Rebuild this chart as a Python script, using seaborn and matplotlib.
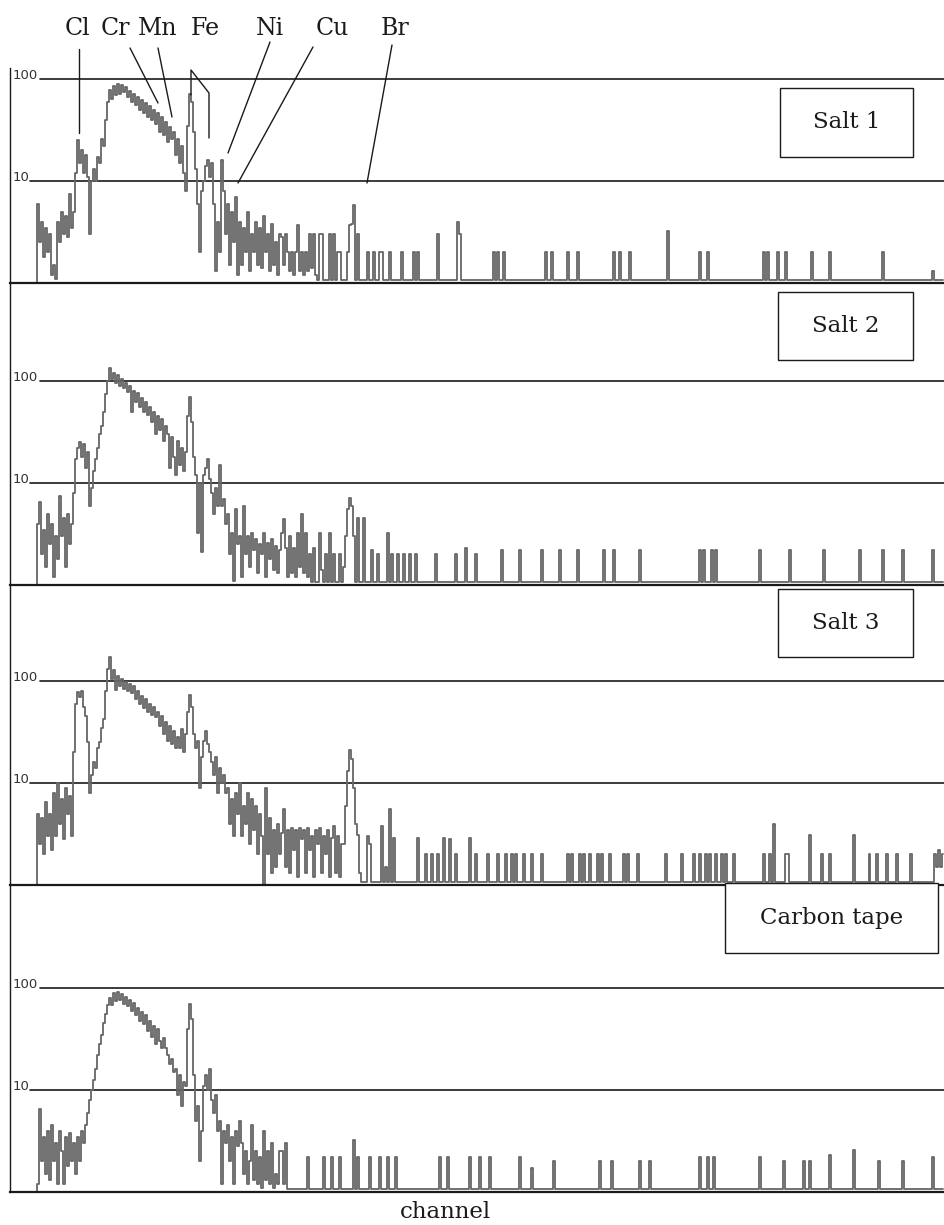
import numpy as np
import pandas as pd
import matplotlib
matplotlib.use("Agg")
import matplotlib.pyplot as plt
from matplotlib.lines import Line2D
from matplotlib.patches import Rectangle
import seaborn as sns

# ---------------------------------------------------------------------------
# Spectra (counts per channel, log scale). Each panel: a dense low-energy
# region listed channel by channel, then isolated counts in the high channels.
# ---------------------------------------------------------------------------
N_CHANNELS = 468
HEAD_START = 13
FLOOR = 1.06

salt1_head = [
    1.0,
    6, 2.5, 4, 1.8, 3.5, 2,
    3, 1.2, 1.5, 1.1,
    4, 2.5, 5, 3, 4.5, 2.8, 7.5, 3.5,
    5, 12,
    25, 15, 20, 12, 18, 11,
    3, 10,
    13, 10, 17, 15, 26, 22,
    40, 60,
    78, 64, 85, 70, 90, 72, 88, 74, 84, 66,
    76, 60, 72, 56, 66, 50, 62, 46, 58, 42, 54, 40, 50,
    36, 46, 30, 42, 28, 38, 24, 34, 26,
    30, 18, 26, 15, 22, 12, 8,
    35, 72, 60, 30,
    13, 6, 2, 8, 10,
    14, 16, 11, 15,
    6, 1.3, 4, 2,
    16,
    8, 3, 6, 1.5, 5, 2.5, 7, 1.2,
    4, 1.5, 3.5, 2, 5, 1.3, 3, 2, 4, 1.5, 3.5, 1.4, 4.5, 2, 3, 1.3, 3.8,
    1.5, 2.5, 1.2, 3,
]
salt1_tail = {
    136: 2.8, 137: 1.5, 138: 3, 139: 2, 140: 1.3, 141: 2, 142: 1.2, 143: 2,
    144: 3.7, 145: 1.3, 146: 2, 147: 1.2, 148: 2, 149: 1.3, 150: 3, 151: 1.4,
    152: 3, 153: 1.2, 155: 3, 156: 3, 160: 3, 162: 3, 164: 2, 165: 2,
    169: 2, 170: 3.7, 171: 3.8, 172: 5.8, 174: 3, 179: 2, 182: 2, 185: 2,
    186: 2, 190: 2, 196: 2, 202: 2, 204: 2, 214: 3, 224: 4, 225: 3,
    242: 2, 244: 2, 247: 2, 268: 2, 271: 2, 279: 2, 284: 2, 302: 2, 305: 2,
    310: 2, 329: 3.2, 345: 2, 349: 2, 377: 2, 379: 2, 384: 2, 388: 2,
    401: 2, 410: 2, 437: 2, 462: 1.3,
}

salt2_head = [
    1.0,
    4, 6.5, 2, 3.5, 1.5, 5,
    2.5, 4, 1.2, 3, 1.8, 7.5,
    3, 4.5, 1.5, 5, 2.5, 4,
    8, 17,
    22, 25, 18, 24, 14, 20,
    6, 9,
    13, 17, 22, 30, 36, 50,
    75, 100,
    135, 105, 120, 95, 115, 90, 105, 85, 96,
    78, 90, 50, 80, 62, 76, 56, 68, 50, 62,
    46, 55, 40, 50, 30, 45, 33, 42, 26, 36,
    30, 14, 28, 18, 12, 26, 15, 22, 13, 20,
    45, 70, 40, 18,
    12, 3.2, 10, 2.1, 12, 14, 17, 11,
    8, 5, 9, 6, 15,
    6, 7, 4, 5,
    2, 3.2, 1.1, 5.5, 2.5, 3, 1.2, 6, 2, 3, 1.5, 3.2, 2.2, 2.8, 1.3, 2.5,
    2, 3.2, 1.2, 2.6, 1.8, 2.8, 1.4, 2.4, 1.3, 2.2,
]
salt2_tail = {
    136: 3.2, 137: 4.4, 138: 2.3, 139: 1.2, 140: 3, 141: 1.3, 142: 2.3,
    143: 1.2, 144: 3.2, 145: 1.5, 146: 5, 147: 1.3, 148: 3.2, 149: 1.2,
    150: 2, 152: 2.3, 155: 3.2, 156: 1.4, 158: 2, 160: 3.2, 162: 2,
    165: 2, 167: 1.5, 168: 3, 169: 5.5, 170: 7.2, 171: 6, 172: 3, 174: 4.5,
    177: 4.5, 181: 2.2, 184: 2, 189: 3.2, 191: 2, 194: 2, 197: 2, 200: 2,
    203: 2, 213: 2, 223: 2, 228: 2.3, 233: 2, 246: 2.2, 255: 2.2,
    266: 2.2, 275: 2.2, 284: 2.2, 297: 2.2, 302: 2.2, 315: 2.2, 345: 2.2,
    347: 2.2, 351: 2.2, 353: 2.2, 375: 2.2, 390: 2.2, 407: 2.2, 425: 2.2,
    437: 2.2, 447: 2.2, 462: 2.2,
}

salt3_head = [
    1.0,
    5, 2.5, 4.5, 2, 6.5, 3, 5, 2.2,
    8, 3, 10, 4, 7, 2.8, 9, 5, 7.5, 3,
    20, 60,
    78, 70, 80, 55, 45, 25,
    8, 12,
    16, 14, 22, 25, 35, 42,
    80, 130, 170,
    105, 128, 82, 112, 90,
    104, 84, 98, 80, 94,
    76, 90, 66, 80, 60, 72, 54, 66, 50, 60, 46, 56, 44,
    50, 36, 45, 30, 40, 26, 36, 24, 32, 22,
    28, 22, 34, 20, 30,
    50, 73, 55, 30,
    22, 26, 9,
    18, 26, 32, 24, 20,
    16, 12, 18, 8, 14, 10, 12, 8,
    9, 4, 7, 3, 8, 5, 10, 3, 6, 4, 8, 2.5, 7, 3.5, 6, 2, 5, 3,
    1, 9, 2, 4.5, 1.3, 3.5, 1.5, 4, 2,
]
salt3_tail = {
    136: 3.2, 137: 5.5, 138: 1.5, 139: 3.5, 140: 1.3, 141: 3.6, 142: 2.2,
    143: 3.5, 144: 1.2, 145: 3.6, 146: 2.8, 147: 3.5, 148: 1.3, 149: 3.6,
    150: 2.2, 151: 3, 152: 1.2, 153: 3.5, 154: 2.5, 155: 3.6, 156: 1.3,
    157: 3, 158: 2, 159: 3.5, 160: 1.2, 161: 2.9, 162: 3.8, 163: 1.3,
    164: 3, 165: 1.2, 166: 2.5,
    167: 2.5, 168: 6, 169: 13, 170: 21, 171: 17, 172: 9, 173: 4, 174: 3.1,
    175: 1.3,
    179: 3, 180: 2.5, 186: 3.8, 188: 1.5, 190: 5.5, 192: 2.9, 204: 2.9,
    208: 2, 211: 2, 214: 2, 217: 2.9, 220: 2.8, 223: 2, 230: 2.9, 233: 2,
    239: 2, 244: 2, 248: 2, 251: 2, 253: 2, 257: 2, 261: 2, 266: 2, 279: 2,
    281: 2, 285: 2, 287: 2, 290: 2, 294: 2, 296: 2, 300: 2, 307: 2, 309: 2,
    314: 2, 328: 2, 336: 2, 342: 2, 345: 2, 348: 2, 350: 2, 353: 2, 356: 2,
    358: 2, 362: 2, 377: 2, 380: 2, 382: 4, 388: 2, 389: 2, 400: 3.1,
    406: 2, 410: 2, 422: 3.1, 430: 2, 434: 2, 439: 2, 444: 2, 451: 2,
    463: 2, 464: 1.5, 465: 2.2, 466: 1.5, 467: 2,
}

tape_head = [
    1.0,
    1.2, 6.5, 2, 3.5, 1.5, 4,
    1.3, 4.5, 2, 3, 1.2, 4,
    2.5, 1.2, 3.5, 1.8, 3.8, 2, 3, 1.5,
    3.5, 2, 4, 3,
    4.5, 6, 8, 10, 12.5, 16,
    22, 28, 35, 45, 55, 68,
    80, 68, 90, 74, 92, 76, 88, 70, 82, 66,
    76, 60, 72, 54, 64, 48, 58, 44, 54,
    38, 48, 33, 42, 28, 40, 30, 26, 32,
    26, 22, 18, 20, 15, 16, 9, 14, 7, 12, 11,
    40, 69, 50, 14,
    5, 7, 2, 4,
    11, 14, 10, 16,
    8, 6, 9, 4, 5,
    1.2, 4, 3, 4.5, 2, 3.5, 1.2, 4, 2.8, 5, 3,
    1.5, 2.5, 1.2, 2, 4.5, 1.3, 2.5, 1.2, 2.2, 1.1, 4, 1.3, 2.5, 1.2, 3,
    1.1, 1.5, 1.2, 2.5,
]
tape_tail = {
    136: 2.5, 137: 1.2, 138: 3, 149: 2.2, 157: 2.2, 161: 2.2, 165: 2.2,
    172: 3.2, 174: 2.2, 180: 2.2, 185: 2.2, 189: 2.2, 193: 2.2, 215: 2.2,
    219: 2.2, 230: 2.2, 235: 2.2, 240: 2.2, 255: 2.2, 261: 1.7, 272: 2,
    295: 2, 301: 2, 315: 2, 320: 2, 345: 2.2, 349: 2.2, 352: 2.2, 375: 2.2,
    387: 2, 397: 2, 400: 2, 410: 2.3, 422: 2.6, 435: 2, 447: 2, 462: 2.2,
}

panel_names = ["Salt 1", "Salt 2", "Salt 3", "Carbon tape"]
heads = [salt1_head, salt2_head, salt3_head, tape_head]
tails = [salt1_tail, salt2_tail, salt3_tail, tape_tail]

element_labels = ["Cl", "Cr", "Mn", "Fe", "Ni", "Cu", "Br"]
reference_levels = [100, 10]


def build_spectrum(head, tail):
    ch = np.arange(HEAD_START, N_CHANNELS)
    counts = np.full(ch.size, FLOOR)
    counts[:len(head)] = head
    for c, v in tail.items():
        counts[c - HEAD_START] = v
    return pd.DataFrame({"channel": ch, "counts": counts})


# ---------------------------------------------------------------------------
# Figure layout (pixel geometry at 100 dpi)
# ---------------------------------------------------------------------------
W, H = 945, 1225
sns.set_style("white")
plt.rcParams["font.family"] = ["DejaVu Serif", "DejaVu Sans"]

fig = plt.figure(figsize=(W / 100, H / 100), dpi=100)

DECADE_PX = 102.0
panel_px = [(68, 283), (283, 585), (585, 885), (885, 1192)]
LEFT_PX = 10

trace_color = "#666666"
ink = "#1a1a1a"


def fx(x):
    return x / W


def fy(y):
    return 1 - y / H


for i, (ytop, ybot) in enumerate(panel_px):
    ax = fig.add_axes([fx(LEFT_PX), fy(ybot), 1 - fx(LEFT_PX) + 0.01,
                       (ybot - ytop) / H])
    df = build_spectrum(heads[i], tails[i])
    sns.lineplot(data=df, x="channel", y="counts", ax=ax, color=trace_color,
                 linewidth=1.3, drawstyle="steps-mid", estimator=None,
                 legend=False)
    ax.set_yscale("log")
    ax.set_ylim(1, 10 ** ((ybot - ytop) / DECADE_PX))
    ax.set_xlim(0, (W - LEFT_PX) / 2 + 5)
    ax.set_xticks([])
    ax.set_yticks([])
    ax.minorticks_off()
    ax.set_xlabel("")
    ax.set_ylabel("")
    ax.patch.set_alpha(0)
    for side in ("top", "right"):
        ax.spines[side].set_visible(False)
    ax.spines["left"].set_color(ink)
    ax.spines["left"].set_linewidth(1.0)
    ax.spines["bottom"].set_color(ink)
    ax.spines["bottom"].set_linewidth(1.6)

    # reference levels with their labels at the left edge
    for lvl, start_px in zip(reference_levels, (40, 30)):
        ax.axhline(lvl, xmin=(start_px - LEFT_PX) / (W - LEFT_PX), xmax=1,
                   color=ink, linewidth=1.2, zorder=1)
        ax.text(2.5 / (W - LEFT_PX), lvl, str(lvl),
                transform=ax.get_yaxis_transform(), ha="left", va="baseline",
                fontsize=9.5, family="DejaVu Sans", color="#333333")

# sample name boxes
boxes = [(780, 88, 913, 157), (778, 292, 913, 360), (778, 589, 913, 657),
         (725, 883, 938, 953)]
for name, (x0, y0, x1, y1) in zip(panel_names, boxes):
    fig.add_artist(Rectangle((fx(x0), fy(y1)), fx(x1) - fx(x0),
                             fy(y0) - fy(y1), transform=fig.transFigure,
                             fill=True, facecolor="white", edgecolor=ink,
                             linewidth=1.0))
    fig.text(fx((x0 + x1) / 2), fy((y0 + y1) / 2), name, ha="center",
             va="center", fontsize=16.5, color=ink)

# element labels with leader lines
label_x = [77, 115, 158, 205, 270, 332, 395]
for lab, x in zip(element_labels, label_x):
    fig.text(fx(x), fy(35), lab, ha="center", va="baseline", fontsize=17,
             color=ink)

leaders = [
    [(79, 49), (79, 133)],
    [(130, 48), (158, 103)],
    [(158, 48), (172, 117)],
    [(191, 95), (191, 70), (209, 93), (209, 138)],
    [(270, 42), (228, 153)],
    [(313, 47), (238, 183)],
    [(392, 45), (367, 183)],
]
for pts in leaders:
    xs = [fx(p[0]) for p in pts]
    ys = [fy(p[1]) for p in pts]
    fig.add_artist(Line2D(xs, ys, transform=fig.transFigure, color=ink,
                          linewidth=1.0))

fig.text(fx(445), fy(1212), "channel", ha="center", va="center",
         fontsize=16.5, color=ink)

fig.savefig("out.png", dpi=100, facecolor="white")
